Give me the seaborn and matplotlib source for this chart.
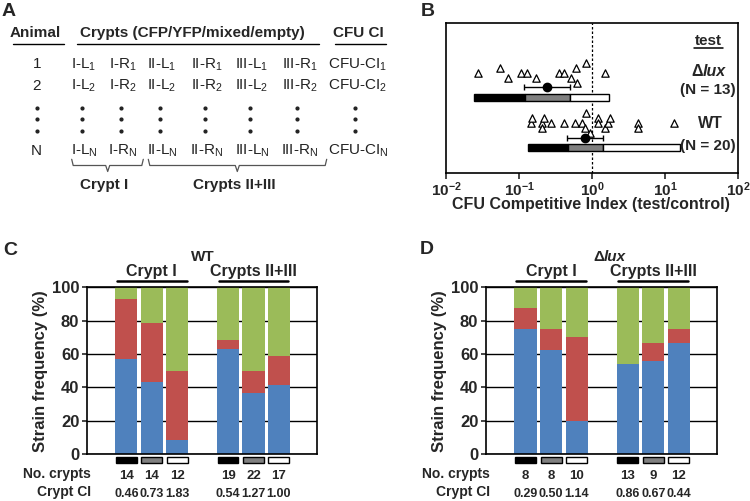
import matplotlib
matplotlib.use("Agg")
import matplotlib.pyplot as plt
import matplotlib.transforms as mtransforms
from matplotlib.patches import Rectangle
from matplotlib.ticker import NullLocator
import numpy as np
import pandas as pd
import seaborn as sns

# ---------------- Panel A (design table) ----------------
animal_rows = ["1", "2", "N"]
crypt_cols = ["I-L", "I-R", "II-L", "II-R", "III-L", "III-R"]

# ---------------- Panel B (CFU competitive index) ----------------
lux_ci = [0.0275, 0.0546, 0.071, 0.108, 0.129, 0.170, 0.35, 0.414, 0.523, 0.598, 0.63, 0.82, 1.49]
lux_stack = [0, 1, -1, 0, 0, -1, 0, 0, -1, 1, -2, 2, 0]
wt_ci = [0.146, 0.151, 0.207, 0.209, 0.22, 0.278, 0.42, 0.58, 0.72, 0.79, 0.84, 0.93,
         1.19, 1.22, 1.52, 1.66, 1.78, 4.3, 4.3, 13.3]
wt_stack = [0, 1, 0, -1, 1, 0, 0, 0, 0, -1, 2, -2, 1, 0, -1, 0, 1, 0, -1, 0]
strain_n = [13, 20]
mean_ci = [0.242, 0.81]
ci_low = [0.117, 0.455]
ci_high = [0.495, 1.43]
lux_edges = [0.0243, 0.12, 0.495, 1.71]
wt_edges = [0.133, 0.47, 1.43, 16.2]
tertile_colors = ["black", "#808080", "white"]
b_ticks = [-2, -1, 0, 1, 2]

# ---------------- Panels C / D (strain frequency) ----------------
bar_slots = [0, 1, 2, 4, 5, 6]
group_labels = ["Crypt I", "Crypts II+III"]
group_centers = [1, 5]
wt_blue = [57.1, 42.9, 8.3, 63.2, 36.4, 41.2]
wt_red = [35.7, 35.7, 41.7, 5.3, 13.6, 17.6]
wt_green = [7.2, 21.4, 50.0, 31.5, 50.0, 41.2]
wt_n = [14, 14, 12, 19, 22, 17]
wt_cci = ["0.46", "0.73", "1.83", "0.54", "1.27", "1.00"]
lux_blue = [75.0, 62.5, 20.0, 53.8, 55.6, 66.7]
lux_red = [12.5, 12.5, 50.0, 0.0, 11.1, 8.3]
lux_green = [12.5, 25.0, 30.0, 46.2, 33.3, 25.0]
lux_n = [8, 8, 10, 13, 9, 12]
lux_cci = ["0.29", "0.50", "1.14", "0.86", "0.67", "0.44"]
freq_ticks = [0, 20, 40, 60, 80, 100]

BLUE, RED, GREEN = "#4F81BD", "#C0504D", "#9BBB59"

sns.set_theme(style="white")
plt.rcParams["font.family"] = ["Liberation Sans", "DejaVu Sans"]
plt.rcParams["mathtext.fontset"] = "custom"
plt.rcParams["mathtext.rm"] = "Liberation Sans"
plt.rcParams["mathtext.bf"] = "Liberation Sans:bold"
plt.rcParams["mathtext.it"] = "Liberation Sans:italic"
plt.rcParams["mathtext.default"] = "regular"

fig = plt.figure(figsize=(7.5, 5.01), dpi=100)
W, H = 750.0, 501.0


def px_axes(l, t, r, b):
    return fig.add_axes([l / W, 1 - b / H, (r - l) / W, (b - t) / H])


axB = px_axes(446, 23, 738, 172.7)
axC = px_axes(87, 287.3, 317, 454)
axD = px_axes(486, 287.3, 717, 454)
ov = fig.add_axes([0, 0, 1, 1], zorder=5)
ov.set_xlim(0, W)
ov.set_ylim(H, 0)
ov.axis("off")
ov.patch.set_alpha(0)

# ---------------- Panel A ----------------
TXT = "#222222"
ov.text(35.5, 37.3, "Animal", ha="center", va="baseline", fontsize=11, fontweight="bold")
ov.text(192.5, 37.3, "Crypts (CFP/YFP/mixed/empty)", ha="center", va="baseline", fontsize=11, fontweight="bold")
ov.text(358, 37.3, "CFU CI", ha="center", va="baseline", fontsize=11, fontweight="bold")
for x0, x1 in [(13, 64), (77, 319), (335, 386)]:
    ov.plot([x0, x1], [43.5, 43.5], color="black", lw=1.0)

row_base = [68.3, 90, 155]
col_x = [84, 123, 162, 207, 252, 299.5]
for r, yb in zip(animal_rows, row_base):
    ov.text(36.7, yb, r, ha="center", va="baseline", fontsize=11, color=TXT)
    for c, xc in zip(crypt_cols, col_x):
        ov.text(xc, yb, c + "$_{" + r + "}$", ha="center", va="baseline", fontsize=11, color=TXT)
    ov.text(358, yb, "CFU-CI$_{" + r + "}$", ha="center", va="baseline", fontsize=11, color=TXT)

dot_x = [37.3, 82, 121, 160, 204.5, 249.5, 296.5, 355]
for yd in [107.5, 119, 130.5]:
    ov.plot(dot_x, [yd] * len(dot_x), "o", ms=2.0, color=TXT, ls="none")

def brace(x0, x1, xt, ytop=159.3, ymid=165.5, ybot=171.5):
    ov.plot([x0, x0 + 1.5, xt - 2, xt, xt + 2, x1 - 1.5, x1],
            [ytop, ymid, ymid, ybot, ymid, ymid, ytop], color="#555555", lw=0.9)

brace(71.7, 143.3, 107.7)
brace(148.3, 326.7, 237.3)
ov.text(104.5, 188.5, "Crypt I", ha="center", va="baseline", fontsize=11, fontweight="bold")
ov.text(234, 188.5, "Crypts II+III", ha="center", va="baseline", fontsize=11, fontweight="bold")

# panel letters
for lab, x, y in [("A", 2, 16), ("B", 421, 15.5), ("C", 3, 255), ("D", 420, 253.5)]:
    ov.text(x, y, lab, ha="left", va="baseline", fontsize=14, fontweight="bold")

# ---------------- Panel B ----------------
dfB = pd.DataFrame({
    "ci": lux_ci + wt_ci,
    "row": [0 - 0.1 * s for s in lux_stack] + [1 - 0.1 * s for s in wt_stack],
})
sns.scatterplot(data=dfB, x="ci", y="row", marker="^", s=28, color="white",
                edgecolor="black", linewidth=0.9, ax=axB, legend=False, zorder=3)
for i, edges in enumerate([lux_edges, wt_edges]):
    for j in range(3):
        axB.barh(i + 0.485, edges[j + 1] - edges[j], left=edges[j], height=0.14,
                 color=tertile_colors[j], edgecolor="black", linewidth=1.0, zorder=2)
    axB.errorbar([mean_ci[i]], [i + 0.29],
                 xerr=[[mean_ci[i] - ci_low[i]], [ci_high[i] - mean_ci[i]]],
                 fmt="o", color="black", ms=6, capsize=2.5, elinewidth=1.0,
                 capthick=1.0, zorder=4)
axB.axvline(1, color="black", ls=(0, (2, 1.6)), lw=0.9, zorder=1)
axB.set_xscale("log")
axB.set_xlim(0.01, 100)
axB.set_ylim(1.976, -0.982)
axB.set_yticks([])
axB.xaxis.set_minor_locator(NullLocator())
axB.set_xticks([10.0 ** e for e in b_ticks])
axB.set_xticklabels([r"$\mathbf{10^{%d}}$" % e for e in b_ticks], fontsize=11)
axB.tick_params(axis="x", direction="out", length=4, width=1.2, pad=1.5, bottom=True)
for sp in axB.spines.values():
    sp.set_visible(True)
    sp.set_color("black")
    sp.set_linewidth(1.2)
axB.set_xlabel("")
axB.set_ylabel("")
ov.text(591, 209.5, "CFU Competitive Index (test/control)", ha="center", va="baseline",
        fontsize=11.5, fontweight="bold")

ov.text(708.5, 45, "test", ha="center", va="baseline", fontsize=11, fontweight="bold")
ov.plot([694, 723], [47.5, 47.5], color="black", lw=1.1)
ov.text(702.5, 76, "Δ", ha="right", va="baseline", fontsize=11.5, fontweight="bold")
ov.text(702.5, 76, "lux", ha="left", va="baseline", fontsize=11.5, fontweight="bold", style="italic")
ov.text(707.5, 93.5, "(N = %d)" % strain_n[0], ha="center", va="baseline", fontsize=11, fontweight="bold")
ov.text(710, 128.3, "WT", ha="center", va="baseline", fontsize=11.5, fontweight="bold")
ov.text(707.5, 150, "(N = %d)" % strain_n[1], ha="center", va="baseline", fontsize=11, fontweight="bold")


# ---------------- Panels C / D ----------------
def freq_panel(ax, blue, red, green, ncry, cci, strain):
    total = [b + r + g for b, r, g in zip(blue, red, green)]
    blue_red = [b + r for b, r in zip(blue, red)]
    for vals, col in [(total, GREEN), (blue_red, RED), (blue, BLUE)]:
        sns.barplot(x=bar_slots, y=vals, native_scale=True, width=0.87, color=col,
                    saturation=1, linewidth=0, errorbar=None, ax=ax, zorder=2)
    ax.set_xlim(-1.55, 7.5)
    ax.set_ylim(0, 100)
    ax.set_xticks([])
    ax.set_yticks(freq_ticks)
    ax.set_yticklabels([str(t) for t in freq_ticks], fontsize=12, fontweight="bold")
    ax.yaxis.grid(True, color="black", lw=1.0)
    ax.xaxis.grid(False)
    ax.set_axisbelow(True)
    ax.tick_params(axis="y", direction="out", length=3.5, width=1.2, pad=2, left=True)
    for sp in ax.spines.values():
        sp.set_visible(True)
        sp.set_color("black")
        sp.set_linewidth(1.2)
    ax.set_xlabel("")
    ax.set_ylabel("Strain frequency (%)", fontsize=12, fontweight="bold", labelpad=3)
    tr = mtransforms.blended_transform_factory(ax.transData, ax.transAxes)
    # header
    if strain == "WT":
        ax.text(3, 1.158, "WT", transform=tr, ha="center", va="baseline",
                fontsize=11, fontweight="bold")
    else:
        ax.text(3.08, 1.158, "Δ", transform=tr, ha="right", va="baseline",
                fontsize=11, fontweight="bold")
        ax.text(3.08, 1.158, "lux", transform=tr, ha="left", va="baseline",
                fontsize=11, fontweight="bold", style="italic")
    for lab, c in zip(group_labels, group_centers):
        ax.text(c, 1.07, lab, transform=tr, ha="center", va="baseline",
                fontsize=11.5, fontweight="bold")
        ax.plot([c - 1.37, c + 1.37], [1.038, 1.038], transform=tr, clip_on=False,
                color="black", lw=1.8)
    # tertile swatches
    for s, col in zip(bar_slots, tertile_colors * 2):
        ax.add_patch(Rectangle((s - 0.41, -0.056), 0.82, 0.038, transform=tr,
                               clip_on=False, facecolor=col, edgecolor="black", lw=1.0))
    ax.text(-1.4, -0.146, "No. crypts", transform=tr, ha="right", va="baseline",
            fontsize=10, fontweight="bold")
    ax.text(-1.4, -0.252, "Crypt CI", transform=tr, ha="right", va="baseline",
            fontsize=10, fontweight="bold")
    for s, n, c in zip(bar_slots, ncry, cci):
        ax.text(s, -0.150, str(n), transform=tr, ha="center", va="baseline",
                fontsize=9.5, fontweight="bold")
        ax.text(s, -0.255, c, transform=tr, ha="center", va="baseline",
                fontsize=9, fontweight="bold")


freq_panel(axC, wt_blue, wt_red, wt_green, wt_n, wt_cci, "WT")
freq_panel(axD, lux_blue, lux_red, lux_green, lux_n, lux_cci, "lux")

fig.savefig("out.png", dpi=100)
